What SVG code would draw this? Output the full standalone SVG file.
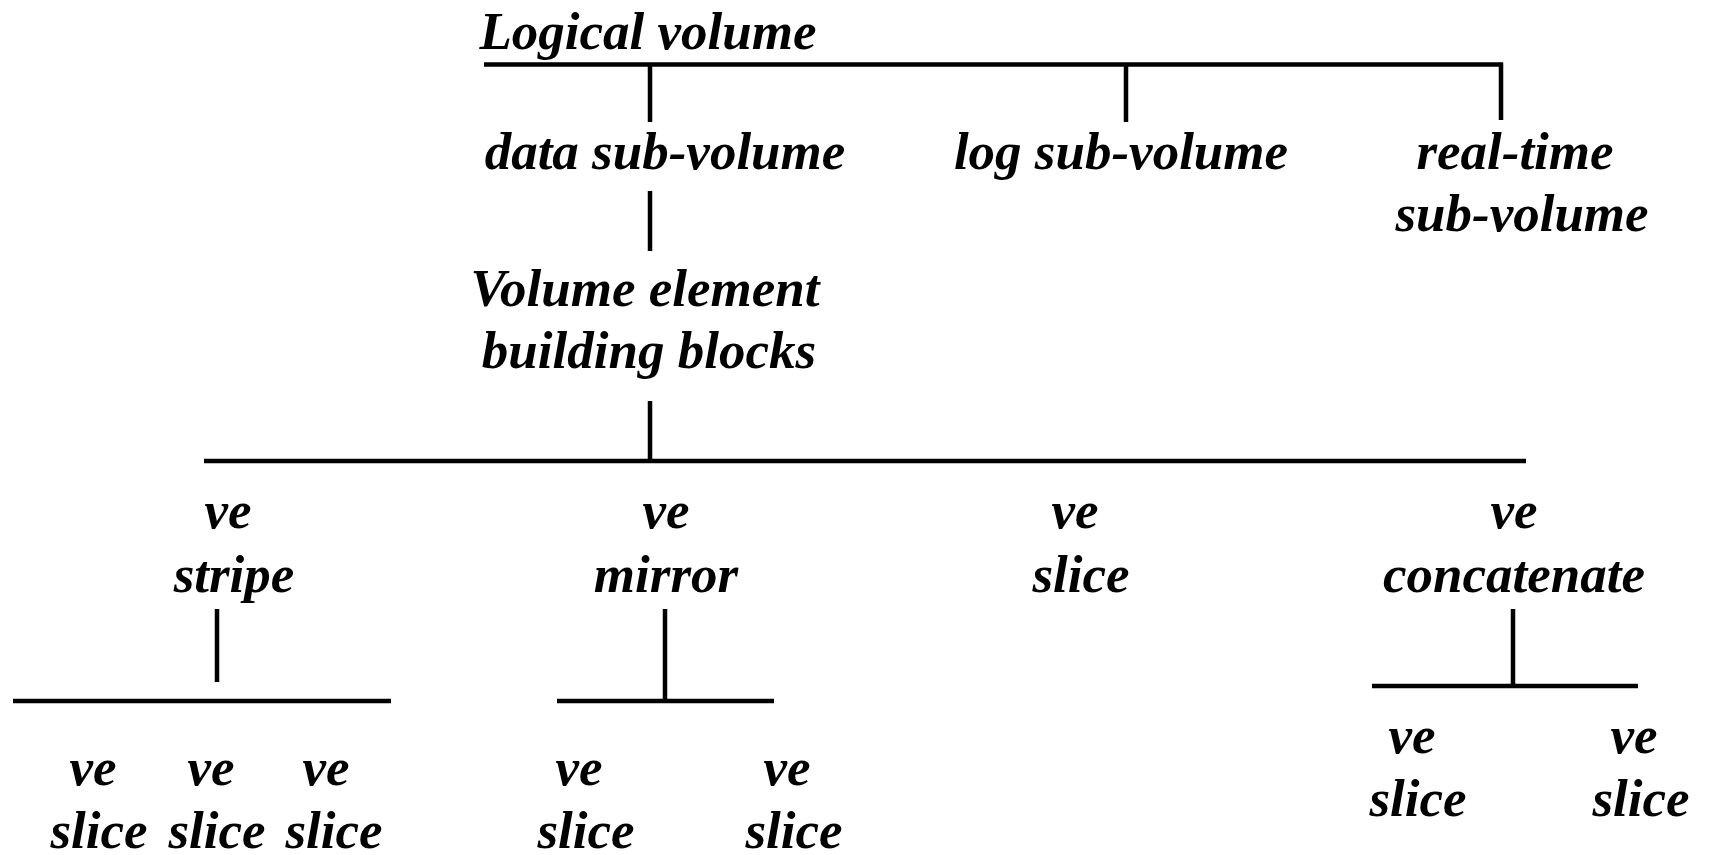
<svg xmlns="http://www.w3.org/2000/svg" width="1712" height="855" viewBox="0 0 1712 855">
  <style>
    .lbl { font-family: "Liberation Serif", "Times New Roman", serif; font-weight: bold; font-style: italic; font-size: 53px; fill: #000; text-anchor: middle; }
    .wire { stroke: #000; stroke-width: 4.5; fill: none; stroke-linecap: butt; }
  </style>
  <rect width="1712" height="855" fill="#fff"/>

  <!-- tree connectors -->
  <g id="connectors">
    <!-- logical volume bus -->
    <path class="wire" d="M484 64.5 H1503 M650 64.5 V122 M1126 64.5 V122 M1501 62.5 V120"/>
    <!-- data sub-volume to building blocks -->
    <path class="wire" d="M650 191 V251"/>
    <!-- building blocks bus -->
    <path class="wire" d="M650 401 V461 M204 461 H1526"/>
    <!-- stripe -->
    <path class="wire" d="M217 609 V682 M13 701 H391"/>
    <!-- mirror -->
    <path class="wire" d="M665 609 V701 M557 701 H774"/>
    <!-- concatenate -->
    <path class="wire" d="M1513 609 V686 M1372 686 H1638"/>
  </g>

  <g id="logical-volume"><text class="lbl" x="648" y="49">Logical volume</text></g>
  <g id="data-sub-volume"><text class="lbl" x="665" y="169">data sub-volume</text></g>
  <g id="log-sub-volume"><text class="lbl" x="1121" y="169">log sub-volume</text></g>
  <g id="realtime-sub-volume">
    <text class="lbl" x="1515" y="169">real-time</text>
    <text class="lbl" x="1522" y="231">sub-volume</text>
  </g>
  <g id="ve-building-blocks">
    <text class="lbl" x="645" y="306">Volume element</text>
    <text class="lbl" x="649" y="368">building blocks</text>
  </g>

  <g id="ve-stripe">
    <text class="lbl" x="228" y="528">ve</text>
    <text class="lbl" x="234" y="592">stripe</text>
  </g>
  <g id="ve-mirror">
    <text class="lbl" x="666" y="528">ve</text>
    <text class="lbl" x="666" y="592">mirror</text>
  </g>
  <g id="ve-slice-main">
    <text class="lbl" x="1075" y="528">ve</text>
    <text class="lbl" x="1081" y="592">slice</text>
  </g>
  <g id="ve-concatenate">
    <text class="lbl" x="1514" y="528">ve</text>
    <text class="lbl" x="1514" y="592">concatenate</text>
  </g>

  <g id="stripe-slice-1">
    <text class="lbl" x="93" y="785">ve</text>
    <text class="lbl" x="99" y="848">slice</text>
  </g>
  <g id="stripe-slice-2">
    <text class="lbl" x="211" y="785">ve</text>
    <text class="lbl" x="217" y="848">slice</text>
  </g>
  <g id="stripe-slice-3">
    <text class="lbl" x="326" y="785">ve</text>
    <text class="lbl" x="334" y="848">slice</text>
  </g>

  <g id="mirror-slice-1">
    <text class="lbl" x="579" y="785">ve</text>
    <text class="lbl" x="586" y="848">slice</text>
  </g>
  <g id="mirror-slice-2">
    <text class="lbl" x="787" y="785">ve</text>
    <text class="lbl" x="794" y="848">slice</text>
  </g>

  <g id="concat-slice-1">
    <text class="lbl" x="1412" y="753">ve</text>
    <text class="lbl" x="1418" y="816">slice</text>
  </g>
  <g id="concat-slice-2">
    <text class="lbl" x="1634" y="753">ve</text>
    <text class="lbl" x="1641" y="816">slice</text>
  </g>
</svg>
